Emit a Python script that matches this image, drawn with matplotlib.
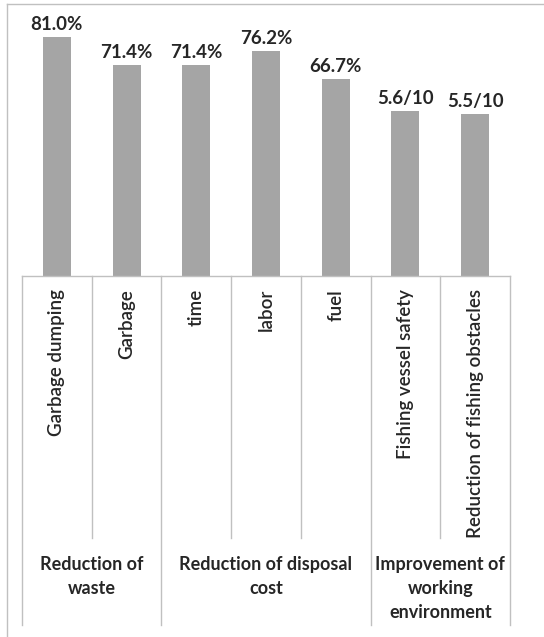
import matplotlib.pyplot as plt
import numpy as np

# bar values (scores out of 10 drawn as x10)
categories = ['Garbage dumping', 'Garbage', 'time', 'labor', 'fuel',
              'Fishing vessel safety', 'Reduction of fishing obstacles']
values = [81.0, 71.4, 71.4, 76.2, 66.7, 56.0, 55.0]
value_labels = ['81.0%', '71.4%', '71.4%', '76.2%', '66.7%', '5.6/10', '5.5/10']
groups = ['Reduction of\nwaste', 'Reduction of disposal\ncost',
          'Improvement of\nworking\nenvironment']
group_sizes = [2, 3, 2]

W, H = 544, 637
fig = plt.figure(figsize=(W / 100, H / 100), dpi=100)
line_col = '#c0c0c0'
bar_col = '#a5a5a5'
font = 'Lato'
txt_col = '#262626'

# frame lines of the cropped screenshot (top and left)
fig.add_artist(plt.Line2D([7 / W, 1], [1 - 4 / H, 1 - 4 / H], color=line_col, lw=1))
fig.add_artist(plt.Line2D([7 / W, 7 / W], [0, 1 - 4 / H], color=line_col, lw=1))

x0, x1 = 22, 510
base = 276
top = 10.5
ax = fig.add_axes([x0 / W, (H - base) / H, (x1 - x0) / W, (base - top) / H])
x = np.arange(len(categories))
ax.bar(x, values, width=0.4, color=bar_col)
ax.set_xlim(-0.5, len(categories) - 0.5)
ax.set_ylim(0, 90)
ax.axis('off')
for xi, v, lab in zip(x, values, value_labels):
    ax.annotate(lab, (xi, v), xytext=(0, 3), textcoords='offset points',
                ha='center', va='bottom', fontsize=13.5, fontweight='bold',
                family=font, color=txt_col)

# category / group table under the bars
bot = 625
tb = fig.add_axes([x0 / W, (H - bot) / H, (x1 - x0) / W, (bot - base) / H])
tb.set_xlim(-0.5, len(categories) - 0.5)
tb.set_ylim(bot - base, 0)
tb.axis('off')
tb.plot([-0.5, len(categories) - 0.5], [0, 0], color=line_col, lw=1, clip_on=False)

edges = np.cumsum([0] + group_sizes) - 0.5
for i in range(len(categories) + 1):
    b = i - 0.5
    if b in edges:
        tb.plot([b, b], [0, bot - base], color=line_col, lw=1, clip_on=False)
    else:
        tb.plot([b, b], [0, 538 - base], color=line_col, lw=1, clip_on=False)

for xi, c in zip(x, categories):
    tb.text(xi, 289 - base, c, rotation=90, ha='center', va='top',
            fontsize=13.5, fontweight='semibold', family=font, color=txt_col)

for g, a, b in zip(groups, edges[:-1], edges[1:]):
    tb.text((a + b) / 2, 556 - base, g, ha='center', va='top', fontsize=13,
            fontweight='bold', family=font, color=txt_col, linespacing=1.5)

fig.savefig('out.png', dpi=100)
